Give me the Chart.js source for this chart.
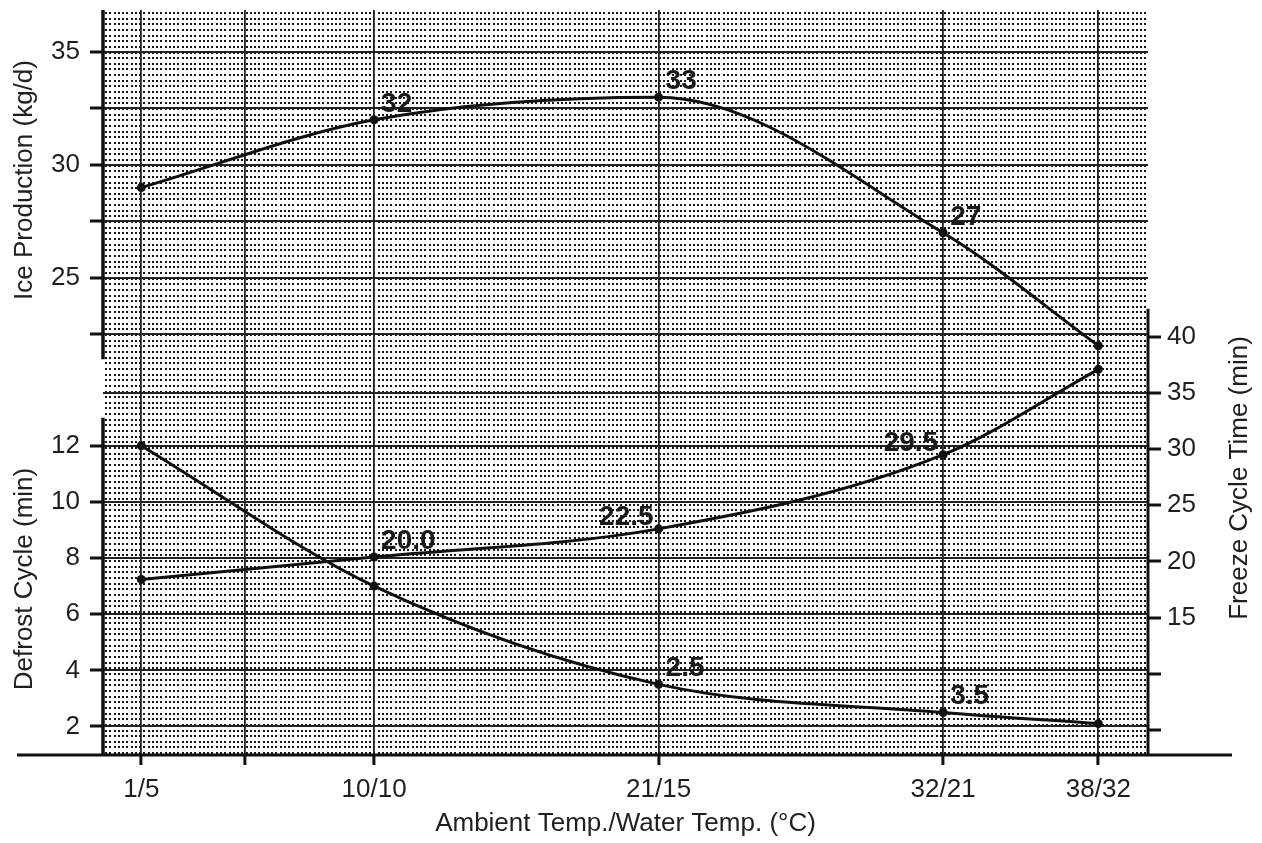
<!DOCTYPE html>
<html><head><meta charset="utf-8">
<script src="https://cdn.jsdelivr.net/npm/chart.js@4"></script>
<style>html,body{margin:0;padding:0;background:#fff;}canvas{display:block;}</style>
</head><body>
<canvas id="c" width="1262" height="843"></canvas>
<script>
// ---- data ----
const categories = ['1/5', '10/10', '21/15', '32/21', '38/32'];
const ambientTemp = [1, 10, 21, 32, 38];
const iceProduction = [29, 32, 33, 27, 22];
const freezeCycle = [18.4, 20.4, 22.9, 29.5, 37.1];
const defrostCycle = [12, 7, 3.5, 2.5, 2.1];
const iceLabels = ['', '32', '33', '27', ''];
const freezeLabels = ['', '20.0', '22.5', '29.5', ''];
const defrostLabels = ['', '', '2.5', '3.5', ''];
const xTicks = [1, 5, 10, 21, 32, 38];
const xTickLabels = ['1/5', '', '10/10', '21/15', '32/21', '38/32'];
const iceTicks = [22.5, 25, 27.5, 30, 32.5, 35];
const iceTickLabels = ['', '25', '', '30', '', '35'];
const defrostTicks = [2, 4, 6, 8, 10, 12];
const defrostTickLabels = ['2', '4', '6', '8', '10', '12'];
const freezeTicks = [5, 10, 15, 20, 25, 30, 35, 40];
const freezeTickLabels = ['', '', '15', '20', '25', '30', '35', '40'];
const freezeTitle = 'Freeze Cycle Time (min)';

// ---- styling ----
const FONT = "'Liberation Sans', Arial, Helvetica, sans-serif";
const INK = '#1f1f1f';
const GRID = '#222';
const setTicks = vals => s => { s.ticks = vals.map(v => ({ value: v })); };
const labelFrom = (vals, labels) => v => { const i = vals.indexOf(v); return i < 0 ? '' : labels[i]; };
const pts = ys => ambientTemp.map((x, i) => ({ x, y: ys[i] }));
const noPad = s => { s.paddingTop = 0; s.paddingBottom = 0; s.paddingLeft = 0; s.paddingRight = 0; };
const fitW = w => s => { s.width = w; noPad(s); };
const tickFont = { family: FONT, size: 26 };
const titleFont = { family: FONT, size: 26, lineHeight: 1.2 };

const decor = {
  id: 'decor',
  beforeDraw(chart) {
    const { ctx, chartArea: a } = chart;
    ctx.save();
    ctx.fillStyle = '#fff';
    ctx.fillRect(0, 0, chart.width, chart.height);
    ctx.fillStyle = '#151515';
    ctx.beginPath();
    for (let y = a.top + 2; y < a.bottom - 1; y += 5.65) {
      for (let x = a.left + 2; x < a.right - 1; x += 4.26) {
        ctx.rect(Math.round(x), Math.round(y), 2, 2);
      }
    }
    ctx.fill();
    ctx.restore();
  },
  afterDatasetsDraw(chart) {
    const { ctx, chartArea: a, scales: s } = chart;
    const line = (x1, y1, x2, y2) => { ctx.beginPath(); ctx.moveTo(x1, y1); ctx.lineTo(x2, y2); ctx.stroke(); };
    ctx.save();
    ctx.strokeStyle = '#111';
    ctx.lineWidth = 3.5;
    line(a.left, a.top, a.left, s.yIce.getPixelForValue(21.4));
    line(a.left, s.yDef.getPixelForValue(13), a.left, a.bottom);
    ctx.lineWidth = 3;
    line(a.right, s.yFreeze.getPixelForValue(42.5), a.right, a.bottom);
    line(a.left - 86, a.bottom, a.right + 84, a.bottom);
    // right axis title (reads bottom-to-top like the left titles)
    ctx.save();
    ctx.translate(a.right + 92, (s.yFreeze.top + s.yFreeze.bottom) / 2);
    ctx.rotate(-Math.PI / 2);
    ctx.font = '26px ' + FONT;
    ctx.fillStyle = INK;
    ctx.textAlign = 'center';
    ctx.textBaseline = 'middle';
    ctx.fillText(freezeTitle, 0, 0);
    ctx.restore();
    // point labels
    ctx.font = 'bold 28px ' + FONT;
    ctx.fillStyle = '#1a1a1a';
    ctx.textBaseline = 'alphabetic';
    chart.data.datasets.forEach((ds, di) => {
      const meta = chart.getDatasetMeta(di);
      meta.data.forEach((p, i) => {
        const t = ds.pointLabels[i];
        if (!t) return;
        if (ds.labelSide[i] === 'left') { ctx.textAlign = 'right'; ctx.fillText(t, p.x - 5, p.y - 4); }
        else { ctx.textAlign = 'left'; ctx.fillText(t, p.x + 7, p.y - 8); }
      });
    });
    ctx.restore();
  }
};

const lineStyle = { borderColor: '#111', backgroundColor: '#111', borderWidth: 3, pointRadius: 4.5, pointHoverRadius: 4.5, pointBorderWidth: 0, cubicInterpolationMode: 'monotone' };

new Chart(document.getElementById('c'), {
  type: 'line',
  data: {
    datasets: [
      Object.assign({ label: 'Ice Production (kg/d)', data: pts(iceProduction), yAxisID: 'yIce', pointLabels: iceLabels, labelSide: ['right', 'right', 'right', 'right', 'right'] }, lineStyle),
      Object.assign({ label: freezeTitle, data: pts(freezeCycle), yAxisID: 'yFreeze', pointLabels: freezeLabels, labelSide: ['right', 'right', 'left', 'left', 'left'] }, lineStyle),
      Object.assign({ label: 'Defrost Cycle (min)', data: pts(defrostCycle), yAxisID: 'yDef', pointLabels: defrostLabels, labelSide: ['right', 'right', 'right', 'right', 'right'] }, lineStyle)
    ]
  },
  options: {
    responsive: false,
    animation: false,
    devicePixelRatio: 1,
    layout: { padding: { top: 10, left: 0, right: 0, bottom: 0 } },
    plugins: { legend: { display: false }, tooltip: { enabled: false } },
    scales: {
      x: {
        type: 'linear', position: 'bottom', min: -0.48, max: 39.92,
        afterBuildTicks: setTicks(xTicks), afterFit: s => { s.height = 88; noPad(s); },
        grid: { color: GRID, lineWidth: 1.8, tickLength: 10, tickWidth: 3, tickColor: '#111' },
        border: { display: false },
        ticks: { autoSkip: false, maxRotation: 0, padding: 9, color: INK, font: tickFont, callback: labelFrom(xTicks, xTickLabels) },
        title: { display: true, text: 'Ambient Temp./Water Temp. (°C)', color: INK, font: titleFont, padding: { top: 0, bottom: 4 } }
      },
      yIce: {
        type: 'linear', position: 'left', stack: 'L', stackWeight: 340, weight: 3,
        min: 21.814, max: 36.858,
        afterBuildTicks: setTicks(iceTicks), afterFit: fitW(103),
        grid: { color: GRID, lineWidth: 2, tickLength: 13, tickWidth: 3, tickColor: '#111' },
        border: { display: false },
        ticks: { padding: 10, color: INK, font: tickFont, callback: labelFrom(iceTicks, iceTickLabels) },
        title: { display: true, text: 'Ice Production (kg/d)', color: INK, font: titleFont, padding: { top: 9, bottom: 0 } }
      },
      ySpacerL: {
        type: 'linear', position: 'left', stack: 'L', stackWeight: 53, weight: 2,
        afterFit: fitW(103),
        grid: { display: false }, border: { display: false }, ticks: { display: false }
      },
      yDef: {
        type: 'linear', position: 'left', stack: 'L', stackWeight: 352, weight: 1,
        min: 0.985, max: 13.521,
        afterBuildTicks: setTicks(defrostTicks), afterFit: fitW(103),
        grid: { color: GRID, lineWidth: 2, tickLength: 13, tickWidth: 3, tickColor: '#111' },
        border: { display: false },
        ticks: { padding: 10, color: INK, font: tickFont, callback: labelFrom(defrostTicks, defrostTickLabels) },
        title: { display: true, text: 'Defrost Cycle (min)', color: INK, font: titleFont, padding: { top: 9, bottom: 0 } }
      },
      ySpacerR: {
        type: 'linear', position: 'right', stack: 'R', stackWeight: 191, weight: 0,
        afterFit: fitW(114),
        grid: { display: false }, border: { display: false }, ticks: { display: false }
      },
      yFreeze: {
        type: 'linear', position: 'right', stack: 'R', stackWeight: 554, weight: 1,
        min: 2.775, max: 52.08,
        afterBuildTicks: setTicks(freezeTicks), afterFit: fitW(114),
        grid: { color: c => (c.tick && c.tick.value === 35) ? GRID : 'rgba(0,0,0,0)', lineWidth: 2, tickLength: 13, tickWidth: 3, tickColor: '#111' },
        border: { display: false },
        ticks: { padding: 6, color: INK, font: tickFont, callback: labelFrom(freezeTicks, freezeTickLabels) },
        title: { display: false }
      }
    }
  },
  plugins: [decor]
});
</script>
</body></html>
